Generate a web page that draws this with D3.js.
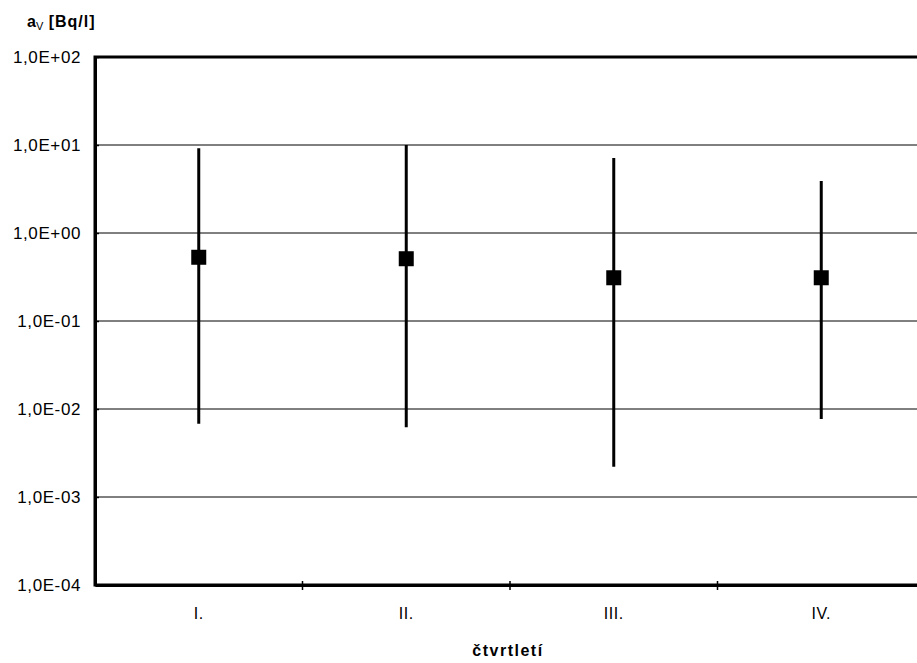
<!DOCTYPE html>
<html>
<head>
<meta charset="utf-8">
<script src="https://cdn.jsdelivr.net/npm/d3@7"></script>
<style>
  body { margin: 0; background: #fff; }
  text { font-family: "Liberation Sans", Arial, sans-serif; }
</style>
</head>
<body>
<div id="chart"></div>
<script>
// quarters and measured activity (mean, min, max)
const quarters = ["I.", "II.", "III.", "IV."];
const meanValues = [0.53, 0.51, 0.31, 0.31];
const minValues = [0.0068, 0.0062, 0.0022, 0.0077];
const maxValues = [9.2, 10, 7.1, 3.9];
const yTicks = [1e-4, 1e-3, 1e-2, 1e-1, 1e0, 1e1, 1e2];

const width = 917, height = 663;
const margin = { left: 95, right: -8, top: 57, bottom: 78 };

const svg = d3.select("#chart").append("svg")
  .attr("width", width)
  .attr("height", height);

const x = d3.scaleBand()
  .domain(quarters)
  .range([margin.left, width - margin.right])
  .padding(0);

const y = d3.scaleLog()
  .domain([1e-4, 1e2])
  .range([height - margin.bottom, margin.top]);

// excel style exponent label, e.g. 1,0E+02
function fmtExp(v) {
  const e = Math.round(Math.log10(v));
  const sign = e < 0 ? "-" : "+";
  return "1,0E" + sign + String(Math.abs(e)).padStart(2, "0");
}

// gridlines
svg.append("g")
  .selectAll("line")
  .data(yTicks.slice(1, -1))
  .enter()
  .append("line")
  .attr("x1", margin.left)
  .attr("x2", width - margin.right)
  .attr("y1", (d) => y(d))
  .attr("y2", (d) => y(d))
  .attr("stroke", "#000")
  .attr("stroke-width", 1);

// plot frame (top + right, right sits just off the page)
svg.append("rect")
  .attr("x", margin.left)
  .attr("y", margin.top)
  .attr("width", width - margin.right - margin.left)
  .attr("height", y(1e-4) - margin.top)
  .attr("fill", "none")
  .attr("stroke", "#000")
  .attr("stroke-width", 3);

// y axis
const yAxis = svg.append("g")
  .attr("transform", `translate(${margin.left},0)`)
  .call(d3.axisLeft(y).tickValues(yTicks).tickFormat(fmtExp).tickSizeInner(4).tickSizeOuter(0).tickPadding(10));
yAxis.select(".domain").attr("stroke-width", 3);
yAxis.selectAll(".tick line").attr("x2", 4).attr("stroke-width", 1.5);
yAxis.selectAll(".tick text")
  .attr("font-size", 17)
  .attr("letter-spacing", 0.6)
  .attr("fill", "#000")
  .attr("font-family", "'Liberation Sans', Arial, sans-serif");

// x axis
const xAxis = svg.append("g")
  .attr("transform", `translate(0,${y(1e-4)})`)
  .call(d3.axisBottom(x).tickSize(0).tickPadding(23));
xAxis.select(".domain").attr("stroke-width", 3);
xAxis.selectAll(".tick text")
  .attr("font-size", 16)
  .attr("letter-spacing", 0.5)
  .attr("fill", "#000")
  .attr("font-family", "'Liberation Sans', Arial, sans-serif");

// category boundary ticks
svg.append("g")
  .selectAll("line")
  .data(quarters.slice(1))
  .enter()
  .append("line")
  .attr("x1", (d) => x(d))
  .attr("x2", (d) => x(d))
  .attr("y1", y(1e-4) - 4)
  .attr("y2", y(1e-4) + 5)
  .attr("stroke", "#000")
  .attr("stroke-width", 1.5);

// error bars
const cx = (i) => x(quarters[i]) + x.bandwidth() / 2;
svg.append("g")
  .selectAll("line")
  .data(meanValues)
  .enter()
  .append("line")
  .attr("x1", (d, i) => cx(i))
  .attr("x2", (d, i) => cx(i))
  .attr("y1", (d, i) => y(maxValues[i]))
  .attr("y2", (d, i) => y(minValues[i]))
  .attr("stroke", "#000")
  .attr("stroke-width", 3);

// mean markers
svg.append("g")
  .selectAll("rect")
  .data(meanValues)
  .enter()
  .append("rect")
  .attr("x", (d, i) => cx(i) - 7.5)
  .attr("y", (d) => y(d) - 7.5)
  .attr("width", 15)
  .attr("height", 15)
  .attr("fill", "#000");

// axis titles
const yTitle = svg.append("text")
  .attr("x", 27)
  .attr("y", 27)
  .attr("font-size", 16)
  .attr("font-weight", "bold");
yTitle.append("tspan").text("a");
yTitle.append("tspan").attr("font-size", 11).attr("dy", 3).attr("font-weight", "normal").text("V");
yTitle.append("tspan").attr("dy", -3).attr("letter-spacing", 1).text(" [Bq/l]");

svg.append("text")
  .attr("x", 508)
  .attr("y", 656)
  .attr("text-anchor", "middle")
  .attr("font-size", 16)
  .attr("font-weight", "bold")
  .attr("letter-spacing", 1.5)
  .text("čtvrtletí");
</script>
</body>
</html>
